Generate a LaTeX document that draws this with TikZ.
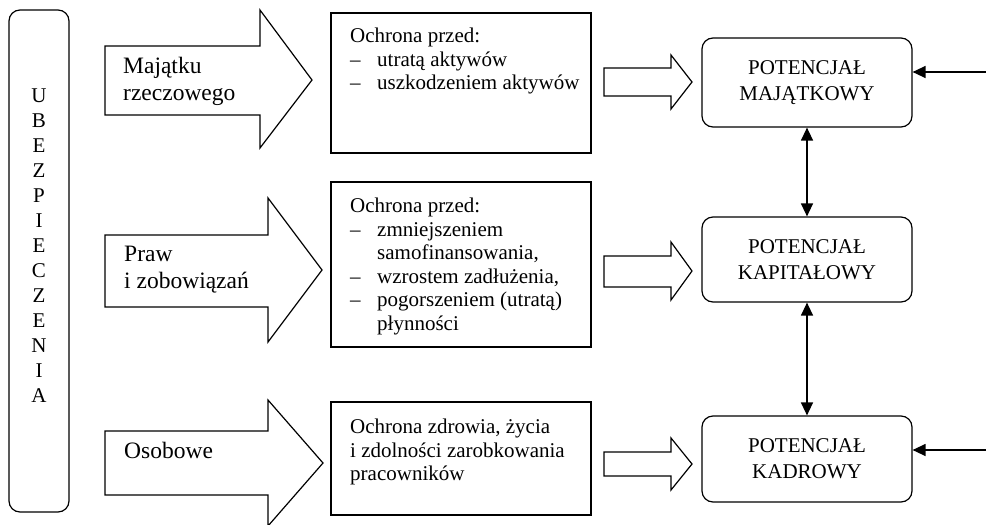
\documentclass[tikz,border=0pt]{standalone}
\usepackage{fontspec}
\setmainfont{Liberation Serif}
\usetikzlibrary{arrows.meta}

\begin{document}
\begin{tikzpicture}[x=1pt, y=-1pt,
  box/.style={draw, line width=1.2pt, inner sep=0pt},
  rbox/.style={draw, line width=1.2pt, rounded corners=11pt, align=center,
    font=\fontsize{21}{26}\selectfont},
  txt/.style={anchor=north west, inner sep=0pt, align=left,
    font=\fontsize{21}{23.5}\selectfont},
  arrtxt/.style={anchor=north west, inner sep=0pt, align=left,
    font=\fontsize{23.5}{27}\selectfont},
  blok/.style={draw, line width=1.2pt, line join=miter},
  strz/.style={line width=1.3pt, -{Triangle[length=13pt,width=12pt]}},
  dstrz/.style={line width=1.3pt, {Triangle[length=13pt,width=12pt]}-{Triangle[length=13pt,width=12pt]}}]

\useasboundingbox (0,0) rectangle (986,525);

% left bar
\node[box, rounded corners=11pt, minimum width=60pt, minimum height=502pt] (ubez) at (39,261) {};
\node[inner sep=0pt, align=center, font=\fontsize{21}{25}\selectfont] (litery) at (39,246)
  {U\\B\\E\\Z\\P\\I\\E\\C\\Z\\E\\N\\I\\A};

% big arrows
\draw [blok] (105,46) -- (260,46) -- (260,10) -- (312,80) -- (260,148) -- (260,115) -- (105,115) -- cycle;
\draw [blok] (105,235) -- (268,235) -- (268,198) -- (322,270) -- (268,342) -- (268,307) -- (105,307) -- cycle;
\draw [blok] (105,431) -- (268,431) -- (268,400) -- (323,463) -- (268,526) -- (268,495) -- (105,495) -- cycle;

\node[arrtxt] (maj) at (123,57) {Majątku\\rzeczowego};
\node[arrtxt] (praw) at (124,246) {Praw\\i zobowiązań};
\node[arrtxt] (osob) at (124,442) {Osobowe};

% middle boxes
\node[box, minimum width=260pt, minimum height=140pt] (och1) at (461,83) {};
\node[box, minimum width=260pt, minimum height=165pt] (och2) at (461,264.5) {};
\node[box, minimum width=260pt, minimum height=113pt] (och3) at (461,458.5) {};

\node[txt] (och1t) at (350,28) {Ochrona przed:\\
  \makebox[27pt][l]{–}utratą aktywów\\
  \makebox[27pt][l]{–}uszkodzeniem aktywów};
\node[txt] (och2t) at (350,198) {Ochrona przed:\\
  \makebox[27pt][l]{–}zmniejszeniem\\
  \hspace*{27pt}samofinansowania,\\
  \makebox[27pt][l]{–}wzrostem zadłużenia,\\
  \makebox[27pt][l]{–}pogorszeniem (utratą)\\
  \hspace*{27pt}płynności};
\node[txt] (och3t) at (350,419) {Ochrona zdrowia, życia\\
  i zdolności zarobkowania\\
  pracowników};

% small arrows
\draw [blok] (604,68) -- (671,68) -- (671,55) -- (692,82) -- (671,109) -- (671,96) -- (604,96) -- cycle;
\draw [blok] (604,256) -- (671,256) -- (671,242) -- (692,271) -- (671,300) -- (671,287) -- (604,287) -- cycle;
\draw [blok] (604,452) -- (671,452) -- (671,438) -- (692,464) -- (671,490) -- (671,476) -- (604,476) -- cycle;

% right boxes
\node[rbox, minimum width=210pt, minimum height=89pt] (pm) at (807,82.5) {POTENCJAŁ\\MAJĄTKOWY};
\node[rbox, minimum width=210pt, minimum height=85pt] (pc) at (807,259.5) {POTENCJAŁ\\KAPITAŁOWY};
\node[rbox, minimum width=210pt, minimum height=86pt] (pk) at (807,459) {POTENCJAŁ\\KADROWY};

\draw [dstrz] (pm.south) -- (pc.north);
\draw [dstrz] (pc.south) -- (pk.north);

\coordinate (wej1) at (986,72);
\coordinate (wej3) at (986,450);
\draw [strz] (wej1) -- (wej1 -| pm.east);
\draw [strz] (wej3) -- (wej3 -| pk.east);

\end{tikzpicture}
\end{document}
